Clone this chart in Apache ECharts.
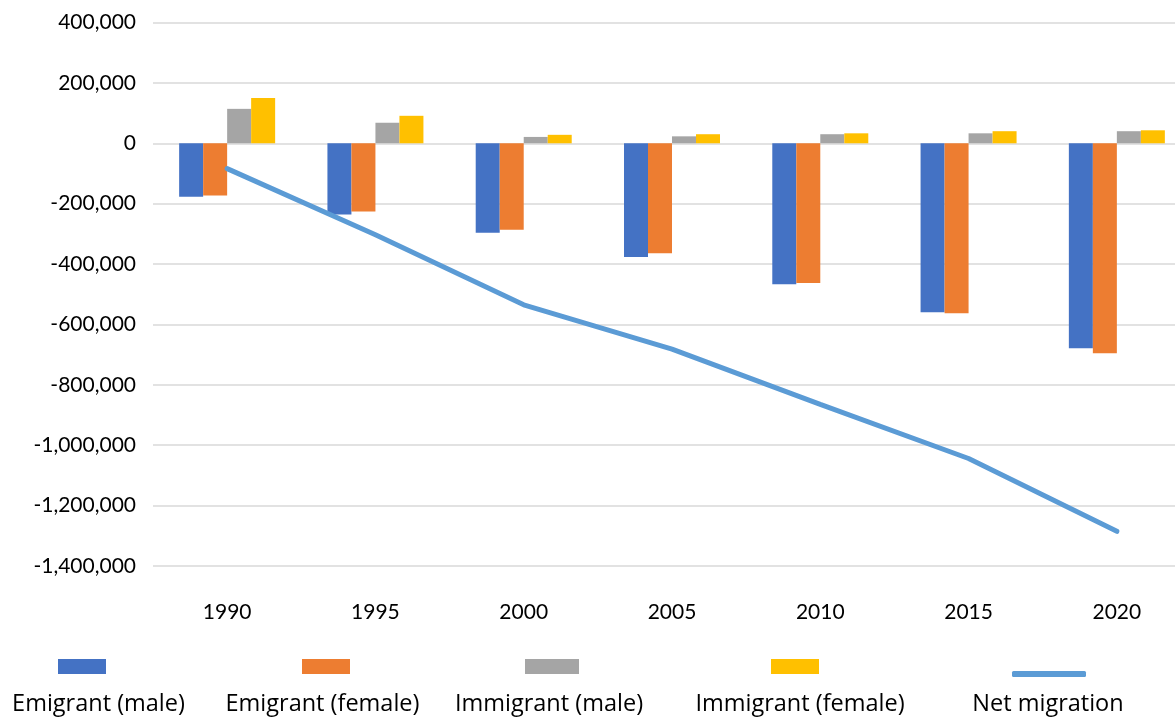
<!DOCTYPE html>
<html><head><meta charset="utf-8">
<script src="https://cdn.jsdelivr.net/npm/echarts@6/dist/echarts.min.js"></script>
<style>html,body{margin:0;padding:0;background:#fff}#c{width:1175px;height:717px}</style>
</head><body><div id="c"></div>
<script>
const years = ['1990','1995','2000','2005','2010','2015','2020'];
const emigrantMale   = [-177000,-236000,-296000,-377000,-467000,-560000,-679000];
const emigrantFemale = [-173000,-226000,-286000,-364000,-463000,-563000,-695000];
const immigrantMale  = [114000,68000,21000,23000,30000,33000,40000];
const immigrantFemale= [150000,91000,28000,30000,33000,40000,43000];
const netMigration   = [-84000,-303000,-535000,-682000,-865000,-1044000,-1285000];
const seriesNames = ['Emigrant (male)','Emigrant (female)','Immigrant (male)','Immigrant (female)','Net migration'];
const colors = ['#4472C4','#ED7D31','#A5A5A5','#FFC000','#5B9BD5'];
const iconCenters = [82, 326, 552, 795, 1049];
const iconWidths = [48, 48, 54, 48, 74];
const textCenters = [98.5, 322.5, 549, 800, 1048];

const FONT = 'Lato';
const FS = 21;
const LFONT = 'Open Sans';
const cv = document.createElement('canvas').getContext('2d');
cv.font = '21px ' + LFONT;
let tot = 0; seriesNames.forEach(n=>{ tot += cv.measureText(n).width; });
const LFS = Math.round(21 * 909 / tot * 2) / 2;
cv.font = LFS + 'px ' + LFONT;

const chart = echarts.init(document.getElementById('c'));
const barData = [emigrantMale, emigrantFemale, immigrantMale, immigrantFemale];
const series = barData.map((d,i)=>({
  name: seriesNames[i], type:'bar', data:d, barWidth:24, barGap:'0%',
  itemStyle:{color:colors[i]}
}));
series.push({name:seriesNames[4], type:'line', data:netMigration, symbol:'none',
  lineStyle:{color:colors[4], width:5, cap:'round'}, itemStyle:{color:colors[4]}, z:5});

const legends = [];
const LH = Math.round(LFS * 1.2);
seriesNames.forEach((n,i)=>{
  const isLine = i===4;
  const iw = iconWidths[i];
  const ih = isLine ? 6 : 15;
  legends.push({
    data:[{name:n, icon: isLine ? 'roundRect' : 'rect'}],
    left: iconCenters[i] - iw/2,
    top: isLine ? 671 : 659,
    itemWidth: iw, itemHeight: ih, itemGap:0, padding:0,
    formatter: ()=>'', selectedMode:false,
    textStyle:{fontSize:1, padding:0}
  });
  const w = cv.measureText(n).width;
  legends.push({
    data:[{name:n, icon:'rect', itemStyle:{opacity:0}}],
    left: textCenters[i] - w/2 - 6,
    top: 703 - LH/2 + 1,
    itemWidth: 1, itemHeight: 1, itemGap:0, padding:0, selectedMode:false,
    textStyle:{fontSize:LFS, fontFamily:LFONT, color:'#000', lineHeight:LH}
  });
});

chart.setOption({
  animation:false,
  backgroundColor:'#fff',
  textStyle:{fontFamily:FONT},
  grid:{left:153, top:22.5, right:-16, bottom:151, containLabel:false, outerBoundsMode:'none'},
  legend: legends,
  xAxis:{type:'category', data:years,
    axisLine:{show:false, onZero:false}, axisTick:{show:false},
    axisLabel:{color:'#000', fontSize:FS, fontFamily:FONT, margin:36}},
  yAxis:{type:'value', min:-1400000, max:400000, interval:200000,
    axisLine:{show:false}, axisTick:{show:false},
    splitLine:{lineStyle:{color:'#D9D9D9', width:1.5}},
    axisLabel:{color:'#000', fontSize:FS, fontFamily:FONT, margin:17,
      formatter:v=>v.toLocaleString('en-US')}},
  series: series
});
</script></body></html>
